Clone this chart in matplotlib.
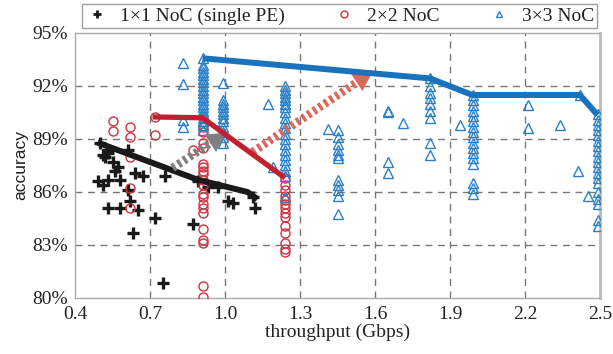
import matplotlib
matplotlib.use("Agg")
import matplotlib.pyplot as plt
import numpy as np
from matplotlib.patches import FancyArrowPatch

# ---------------- data ----------------
noc1_x = [0.50, 0.53, 0.51, 0.53, 0.52, 0.55, 0.57, 0.56, 0.64, 0.67, 0.76, 0.58,
          0.49, 0.51, 0.53, 0.61, 0.62, 0.53, 0.58, 0.65, 0.63, 0.72, 0.75, 0.87,
          0.93, 0.97, 1.01, 1.03, 1.11, 1.12, 0.61, 0.89]
noc1_y = [88.8, 88.4, 88.1, 88.2, 88.0, 87.7, 87.4, 87.2, 87.1, 86.9, 86.9, 86.7,
          86.6, 86.4, 86.7, 86.1, 85.5, 85.1, 85.1, 85.0, 83.7, 84.5, 80.85, 84.2,
          86.3, 86.3, 85.5, 85.4, 85.7, 85.1, 88.4, 86.6]

noc2_cols = {
    0.55: [90.0, 89.45],
    0.62: [89.7, 89.1, 88.0, 86.2, 85.1],
    0.72: [90.25, 89.2],
    0.87: [88.4],
    0.91: [90.2, 89.7, 89.4, 88.8, 88.5, 87.6, 87.4, 87.2, 87.0, 86.7, 86.4, 85.9,
           85.7, 85.3, 85.1, 84.8, 83.9, 83.3, 83.1, 80.7, 80.06],
    1.24: [86.8, 86.4, 86.1, 85.8, 85.55, 85.3, 85.1, 84.8, 84.6, 84.1, 83.7, 83.1,
           82.8, 82.6],
}

noc3_cols = {
    0.83: [93.3, 92.1, 90.07, 89.7],
    0.91: [93.57, 93.2, 93.0, 92.8, 92.6, 92.4, 92.2, 92.0, 91.8, 91.6, 91.4, 91.2,
           91.0, 90.8, 90.6, 90.4, 90.2, 90.0, 89.8, 89.5],
    0.99: [92.15, 91.2, 91.0, 90.8, 90.6, 90.4, 90.2, 90.0, 89.7, 89.4, 89.1, 88.8],
    1.17: [91.0],
    1.19: [87.4],
    1.24: [92.0, 91.8, 91.6, 91.4, 91.2, 91.0, 90.8, 90.5, 90.2, 89.9, 89.6, 89.3,
           89.0, 88.7, 88.4, 88.1, 87.8, 87.5, 87.2, 86.9, 85.7],
    1.41: [89.55],
    1.45: [89.5, 89.1, 88.7, 88.4, 88.1, 87.9, 86.7, 86.4, 86.1, 85.8, 84.75],
    1.65: [90.6, 90.5, 87.7, 87.1],
    1.71: [89.9],
    1.82: [92.43, 92.0, 91.6, 91.3, 91.0, 90.6, 90.2, 88.8, 88.1],
    1.94: [89.8],
    1.99: [91.5, 91.2, 90.9, 90.6, 90.3, 90.0, 89.7, 89.4, 89.1, 88.8, 88.5, 88.2,
           87.9, 87.6, 86.5, 86.2, 85.9],
    2.21: [90.9, 89.6],
    2.34: [89.8],
    2.41: [87.2],
    2.42: [91.5],
    2.45: [85.8],
    2.49: [90.4, 90.1, 89.8, 89.5, 89.2, 88.9, 88.6, 88.3, 88.0, 87.7, 87.4, 87.1,
           86.8, 86.5, 86.0, 85.6, 85.3, 84.4, 84.1],
}

front1_x = [0.49, 0.89, 1.09, 1.13]
front1_y = [88.8, 86.7, 86.0, 85.6]
front2_x = [0.71, 0.91, 1.24]
front2_y = [90.25, 90.2, 86.8]
front3_x = [0.91, 1.82, 1.99, 2.42, 2.49]
front3_y = [93.57, 92.43, 91.49, 91.49, 90.36]

arrow_gray = [(0.79, 87.36), (1.005, 89.35)]
arrow_red = [(1.11, 88.26), (1.59, 92.8)]

xticks = [0.4, 0.7, 1.0, 1.3, 1.6, 1.9, 2.2, 2.5]
xticklabels = ["0.4", "0.7", "1.0", "1.3", "1.6", "1.9", "2.2", "2.5"]
yticks = [80, 83, 86, 89, 92, 95]
yticklabels = ["80%", "83%", "86%", "89%", "92%", "95%"]

labels = ["1\u00d71 NoC (single PE)", "2\u00d72 NoC", "3\u00d73 NoC"]

# ---------------- figure ----------------
plt.rcParams['font.family'] = ['Liberation Serif', 'DejaVu Serif']
fig = plt.figure(figsize=(6.13, 3.54), dpi=100)
ax = fig.add_axes([75/613, 56/354, 525/613, 265/354])
ax.set_xlim(0.4, 2.5)
ax.set_ylim(80, 95)

c_black = "#1a1a1a"
c_red = "#c3202f"
c_blue = "#1872bd"

def expand(cols):
    xs, ys = [], []
    for k, v in cols.items():
        xs += [k] * len(v)
        ys += v
    return xs, ys

x2, y2 = expand(noc2_cols)
x3, y3 = expand(noc3_cols)

h1, = ax.plot(noc1_x, noc1_y, linestyle='none', marker='+', ms=8, mew=2.4,
              color=c_black, zorder=3)
h2, = ax.plot(x2, y2, linestyle='none', marker='o', ms=6.5, mew=1.0,
              mfc='none', mec="#d0303f", zorder=3)
h3, = ax.plot(x3, y3, linestyle='none', marker='^', ms=6.5, mew=1.0,
              mfc='none', mec="#2a7fc6", zorder=3)

ax.plot(front1_x, front1_y, color=c_black, lw=4.3, solid_capstyle='butt', zorder=4)

HEAD_PX = 19.0

def hatched_arrow(p0, p1, color):
    T = ax.transData
    d0 = T.transform(p0)
    d1 = T.transform(p1)
    v = d1 - d0
    L = np.hypot(*v)
    db = d1 - v / L * (HEAD_PX - 2)
    pb = T.inverted().transform(db)
    ax.plot([p0[0], pb[0]], [p0[1], pb[1]], color=color, lw=6, dashes=(0.4, 0.4),
            solid_capstyle='butt', dash_capstyle='butt', zorder=5)
    arr = FancyArrowPatch(p0, p1,
                          arrowstyle='-|>,head_length=1.37,head_width=0.75',
                          mutation_scale=10, color=color, lw=0,
                          shrinkA=0, shrinkB=0, zorder=5)
    ax.add_patch(arr)

hatched_arrow(arrow_gray[0], arrow_gray[1], "#7f7f7f")
ax.plot(front2_x, front2_y, color=c_red, lw=3.8, solid_capstyle='butt', zorder=6)
hatched_arrow(arrow_red[0], arrow_red[1], "#d9675a")
ax.plot(front3_x, front3_y, color=c_blue, lw=4.3, solid_capstyle='butt', zorder=6)

ax.set_xticks(xticks)
ax.set_xticklabels(xticklabels)
ax.set_yticks(yticks)
ax.set_yticklabels(yticklabels)
ax.tick_params(length=0, labelsize=14, pad=5, colors='#222222')
ax.tick_params(axis='x', pad=6)

for xv in xticks[1:-1]:
    ax.axvline(xv, color='#777777', lw=1.0, dashes=(5, 4), zorder=1)
for yv in yticks[1:-1]:
    ax.axhline(yv, color='#777777', lw=1.0, dashes=(5, 4), zorder=1)

for s in ['left', 'bottom', 'top']:
    ax.spines[s].set_color('#aaaaaa')
    ax.spines[s].set_linewidth(1.0)
ax.spines['right'].set_color('#bbbbbb')
ax.spines['right'].set_linewidth(2.0)

ax.set_xlabel("throughput (Gbps)", fontsize=14, labelpad=0, color='#222222')
ax.set_ylabel("accuracy", fontsize=12.5, family=['Liberation Sans', 'DejaVu Sans'],
              labelpad=3, color='#222222')

leg = fig.legend([h1, h2, h3], labels, ncol=3, loc='lower left',
                 bbox_to_anchor=(82/613, 326/354, 515/613, 27/354), mode='expand',
                 fontsize=14, frameon=True, fancybox=False, borderpad=0.15,
                 handlelength=1.2, handletextpad=0.6, columnspacing=1.0,
                 borderaxespad=0)
leg.get_frame().set_edgecolor('#888888')
leg.get_frame().set_linewidth(1.0)
for t in leg.get_texts():
    t.set_color('#222222')
leg.legend_handles[0].set_markersize(6)
leg.legend_handles[0].set_markeredgewidth(2.0)
leg.legend_handles[1].set_markersize(5)
leg.legend_handles[2].set_markersize(5)

fig.savefig("out.png", dpi=100)
